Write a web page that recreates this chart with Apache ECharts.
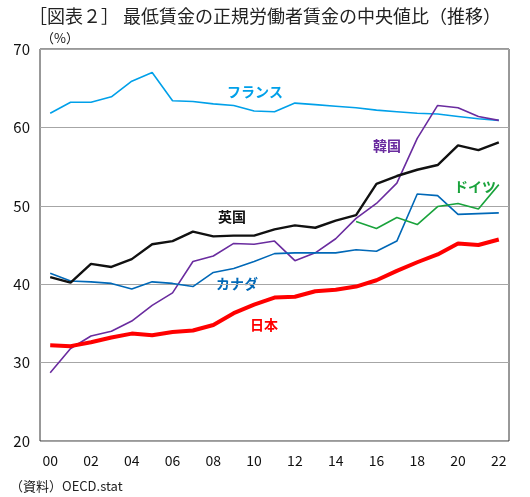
<!DOCTYPE html>
<html>
<head>
<meta charset="utf-8">
<script src="https://cdn.jsdelivr.net/npm/echarts@6/dist/echarts.min.js"></script>
<style>
  html, body { margin: 0; padding: 0; background: #fff; }
  #chart { width: 530px; height: 497px; }
</style>
</head>
<body>
<div id="chart"></div>
<script>
// 年（2000〜2022）
var years = ['00','01','02','03','04','05','06','07','08','09','10','11','12','13','14','15','16','17','18','19','20','21','22'];
var yTicks = [20, 30, 40, 50, 60, 70];

// 各国の値（%）
var france = [61.8, 63.2, 63.2, 63.9, 65.9, 67.0, 63.4, 63.3, 63.0, 62.8, 62.1, 62.0, 63.1, 62.9, 62.7, 62.5, 62.2, 62.0, 61.8, 61.7, 61.4, 61.1, 60.9];
var korea  = [28.7, 31.8, 33.4, 34.0, 35.3, 37.3, 38.9, 42.9, 43.6, 45.2, 45.1, 45.5, 43.0, 44.0, 45.8, 48.4, 50.3, 52.9, 58.6, 62.8, 62.5, 61.4, 60.9];
var uk     = [40.9, 40.2, 42.6, 42.2, 43.2, 45.1, 45.5, 46.7, 46.1, 46.2, 46.2, 47.0, 47.5, 47.2, 48.1, 48.8, 52.8, 53.8, 54.6, 55.2, 57.7, 57.1, 58.1];
var canada = [41.4, 40.4, 40.3, 40.1, 39.4, 40.3, 40.1, 39.7, 41.5, 42.0, 42.9, 43.9, 44.0, 44.0, 44.0, 44.4, 44.2, 45.5, 51.5, 51.3, 48.9, 49.0, 49.1];
var germany = [null, null, null, null, null, null, null, null, null, null, null, null, null, null, null, 48.0, 47.1, 48.5, 47.6, 49.9, 50.3, 49.6, 52.7];
var japan  = [32.2, 32.1, 32.6, 33.2, 33.7, 33.5, 33.9, 34.1, 34.8, 36.3, 37.4, 38.3, 38.4, 39.1, 39.3, 39.7, 40.5, 41.7, 42.8, 43.8, 45.2, 45.0, 45.7];

var myChart = echarts.init(document.getElementById('chart'));
var font = '"Noto Sans CJK JP", sans-serif';

function line(name, data, color, width) {
    return {
        name: name,
        type: 'line',
        data: data,
        symbol: 'none',
        connectNulls: false,
        lineStyle: { color: color, width: width },
        itemStyle: { color: color },
        silent: true
    };
}

// 系列名の注記
function tag(text, x, y, color) {
    return {
        type: 'text',
        x: x, y: y,
        style: { text: text, fill: color, font: 'bold 14px ' + font, align: 'center', verticalAlign: 'middle' }
    };
}

var option = {
    animation: false,
    title: {
        text: '［図表２］ 最低賃金の正規労働者賃金の中央値比（推移）',
        left: 'center',
        top: 2,
        textStyle: { fontFamily: font, fontSize: 18, fontWeight: 'normal', color: '#222' }
    },
    grid: { left: 40, right: 21, top: 49, bottom: 56, show: true, borderColor: '#333', borderWidth: 1 },
    xAxis: {
        type: 'category',
        data: years,
        boundaryGap: true,
        axisLine: { show: false },
        axisTick: { show: false },
        axisLabel: {
            interval: 1,
            margin: 13,
            color: '#111',
            fontFamily: font,
            fontSize: 14
        }
    },
    yAxis: {
        type: 'value',
        min: yTicks[0],
        max: yTicks[yTicks.length - 1],
        interval: 10,
        axisLine: { show: false },
        axisTick: { show: false },
        axisLabel: { margin: 10, color: '#111', fontFamily: font, fontSize: 15, align: 'right' },
        splitLine: { lineStyle: { color: '#a6a6a6', width: 1 } }
    },
    series: [
        line('フランス', france, '#00a0e9', 1.6),
        line('韓国', korea, '#6a2c9f', 1.6),
        line('カナダ', canada, '#0068b7', 1.6),
        line('ドイツ', germany, '#1aa33c', 1.6),
        line('英国', uk, '#111111', 2.4),
        line('日本', japan, '#ff0000', 4)
    ],
    graphic: [
        tag('フランス', 255, 92, '#00a0e9'),
        tag('韓国', 387, 146, '#6a2c9f'),
        tag('ドイツ', 475, 187, '#1aa33c'),
        tag('英国', 232, 217, '#111111'),
        tag('カナダ', 237, 284, '#0068b7'),
        tag('日本', 264, 325, '#ff0000'),
        {
            type: 'text',
            x: 41, y: 38,
            style: { text: '（%）', fill: '#111', font: '13px ' + font, verticalAlign: 'middle' }
        },
        {
            type: 'text',
            x: 10, y: 486,
            style: { text: '（資料）OECD.stat', fill: '#222', font: '13px ' + font, verticalAlign: 'middle' }
        }
    ]
};

myChart.setOption(option);
</script>
</body>
</html>
